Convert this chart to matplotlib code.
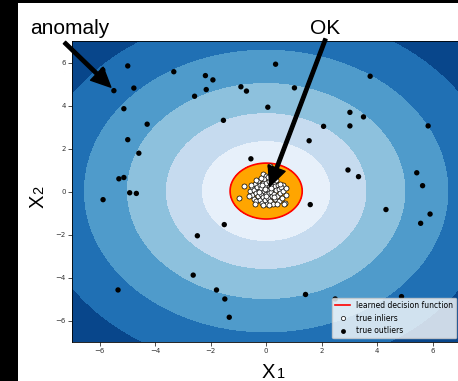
import numpy as np
import matplotlib
matplotlib.use("Agg")
import matplotlib.pyplot as plt
from matplotlib.patches import Rectangle
from matplotlib.lines import Line2D

# ---------------- data ----------------
outlier_x = [-5.89, -4.99, -5.49, -4.77, -5.13, -4.29, -4.99, -4.59, -5.31, -5.13, -4.92, -4.68, -5.88,
             -3.33, -2.19, -1.92, -2.16, -2.58, -1.54, -0.91, -0.71, 0.34, 1.02, 0.06,
             3.75, 3.02, 3.51, 3.02, 2.07, 1.55, 5.84, -0.55, 2.95, 3.33, 5.43, 5.64, 5.91, 5.57, 4.32, 1.59,
             -1.51, -2.48, -2.63, -5.34, -1.79, -1.49, -1.33, 1.42, 2.49, 4.88]
outlier_y = [5.66, 5.85, 4.70, 4.82, 3.86, 3.14, 2.42, 1.79, 0.60, 0.66, -0.05, -0.08, -0.37,
             5.58, 5.40, 5.20, 4.75, 4.44, 3.32, 4.88, 4.68, 5.93, 4.83, 3.93,
             5.37, 3.69, 3.48, 3.06, 3.04, 2.37, 3.06, 1.53, 1.01, 0.70, 0.88, 0.28, -1.04, -1.47, -0.83, -0.60,
             -1.53, -2.05, -3.88, -4.57, -4.57, -4.99, -5.84, -4.78, -4.99, -4.88]

inlier_x = [-0.80, -0.98, 0.69, 0.61, 0.13, -0.11, -0.02, 0.64,
            -0.58, -0.52, -0.50, -0.45, -0.43, -0.40, -0.38, -0.35,
            -0.33, -0.30, -0.28, -0.26, -0.23, -0.21, -0.19, -0.17,
            -0.15, -0.13, -0.11, -0.09, -0.07, -0.05, -0.03, -0.01,
            0.01, 0.03, 0.05, 0.07, 0.09, 0.11, 0.13, 0.15,
            0.17, 0.19, 0.21, 0.23, 0.25, 0.27, 0.29, 0.31,
            0.33, 0.35, 0.37, 0.39, 0.42, 0.45, 0.48, 0.51,
            0.54, 0.57, 0.60, 0.50, -0.62, -0.55, -0.36, -0.20,
            0.05, 0.22, -0.40, -0.10, 0.12, 0.40, 0.72, 0.70,
            -0.25, 0.00, 0.18, -0.15, 0.30, -0.05]
inlier_y = [0.28, -0.28, -0.54, 0.33, 1.19, 0.82, 0.74, -0.57,
            0.05, -0.15, 0.20, -0.32, 0.08, 0.35, -0.08, -0.45,
            0.22, -0.20, 0.48, 0.02, -0.38, 0.30, -0.10, 0.15,
            -0.52, 0.42, -0.25, 0.05, 0.58, -0.40, 0.25, -0.12,
            0.40, -0.55, 0.10, -0.30, 0.52, -0.05, 0.28, -0.45,
            0.00, 0.38, -0.22, 0.15, -0.58, 0.45, -0.10, 0.25,
            -0.35, 0.08, 0.55, -0.18, 0.30, -0.42, 0.12, -0.05,
            0.22, -0.28, 0.05, 0.38, -0.22, 0.30, 0.55, 0.65,
            0.68, 0.62, -0.55, -0.62, -0.60, -0.55, 0.18, -0.15,
            -0.02, -0.20, 0.18, 0.32, -0.25, 0.12]

# radii of the contour boundaries (decision boundary first)
ring_radii = [1.3, 2.3, 3.6, 5.0, 6.55, 8.3]
center = (0.0, 0.03)

x_ticks = [-6, -4, -2, 0, 2, 4, 6]
y_ticks = [-6, -4, -2, 0, 2, 4, 6]

# arrow tips (data coords)
anomaly_tip = (-5.60, 4.86)
ok_tip = (0.13, 0.25)

# ---------------- figure ----------------
W, H = 458, 381
fig = plt.figure(figsize=(W / 100, H / 100), dpi=100, facecolor="black")
fig.patches.append(Rectangle((18 / W, 0), 1 - 18 / W, (H - 3) / H,
                             transform=fig.transFigure, facecolor="white",
                             edgecolor="none", zorder=-10))

ax = fig.add_axes([72 / W, (H - 342.2) / H, (460.3 - 72) / W, (342.2 - 41.2) / H])

xx, yy = np.meshgrid(np.linspace(-7, 7, 600), np.linspace(-7, 7, 600))
Z = ring_radii[0] - np.hypot(xx - center[0], yy - center[1])
levels = [Z.min() - 1e-6] + [ring_radii[0] - r for r in ring_radii[::-1][:-1]] + [0]
band_colors = plt.cm.Blues(np.linspace(11 / 12, 1 / 12, len(levels) - 1))
ax.contourf(xx, yy, Z, levels=levels, colors=band_colors)
ax.contourf(xx, yy, Z, levels=[0, Z.max() + 1e-6], colors="orange")
ax.contour(xx, yy, Z, levels=[0], colors="red", linewidths=1.2)

ax.scatter(inlier_x, inlier_y, s=13, c="white", edgecolors="k", linewidths=0.5, zorder=3)
ax.scatter(outlier_x, outlier_y, s=15, c="black", edgecolors="none", zorder=3)

ax.set_xlim(-7, 7)
ax.set_ylim(-7, 7)
ax.set_xticks(x_ticks)
ax.set_yticks(y_ticks)
ax.tick_params(labelsize=5, length=3, width=0.6, pad=1.5, colors="#333333")
for s in ax.spines.values():
    s.set_linewidth(0.6)

handles = [Line2D([], [], color="red", lw=1.2),
           Line2D([], [], ls="none", marker="o", ms=3, mfc="white", mec="k", mew=0.5),
           Line2D([], [], ls="none", marker="o", ms=3.5, mfc="black", mec="none")]
ax.legend(handles, ["learned decision function", "true inliers", "true outliers"],
          loc="lower right", fontsize=5.5, framealpha=0.8)

# axis labels (big X with smaller index)
lab_font = ["Liberation Sans", "DejaVu Sans"]
fig.text(262 / W, (H - 378.3) / H, "X", fontsize=14.5, family=lab_font, ha="left", va="baseline")
fig.text(277 / W, (H - 378.3) / H, "1", fontsize=10.5, family=lab_font, ha="left", va="baseline")
fig.text(43.5 / W, (H - 207.5) / H, "X", fontsize=14.5, family=lab_font, rotation=90,
         ha="left", va="baseline", rotation_mode="anchor")
fig.text(43.5 / W, (H - 194.5) / H, "2", fontsize=10.5, family=lab_font, rotation=90,
         ha="left", va="baseline", rotation_mode="anchor")

# annotations
fig.text(70 / W, (H - 34.5) / H, "anomaly", fontsize=15, family=lab_font, ha="center", va="baseline")
fig.text(325 / W, (H - 34.5) / H, "OK", fontsize=15, family=lab_font, ha="center", va="baseline")
arrow = dict(facecolor="black", edgecolor="black", width=2.4, headwidth=13, headlength=14, shrink=0)
ax.annotate("", xy=anomaly_tip, xycoords="data",
            xytext=(64.5, H - 42.5), textcoords="figure pixels",
            arrowprops=arrow, annotation_clip=False)
ax.annotate("", xy=ok_tip, xycoords="data",
            xytext=(325.5, H - 39), textcoords="figure pixels",
            arrowprops=arrow, annotation_clip=False)

fig.savefig("out.png", dpi=100, facecolor=fig.get_facecolor())
